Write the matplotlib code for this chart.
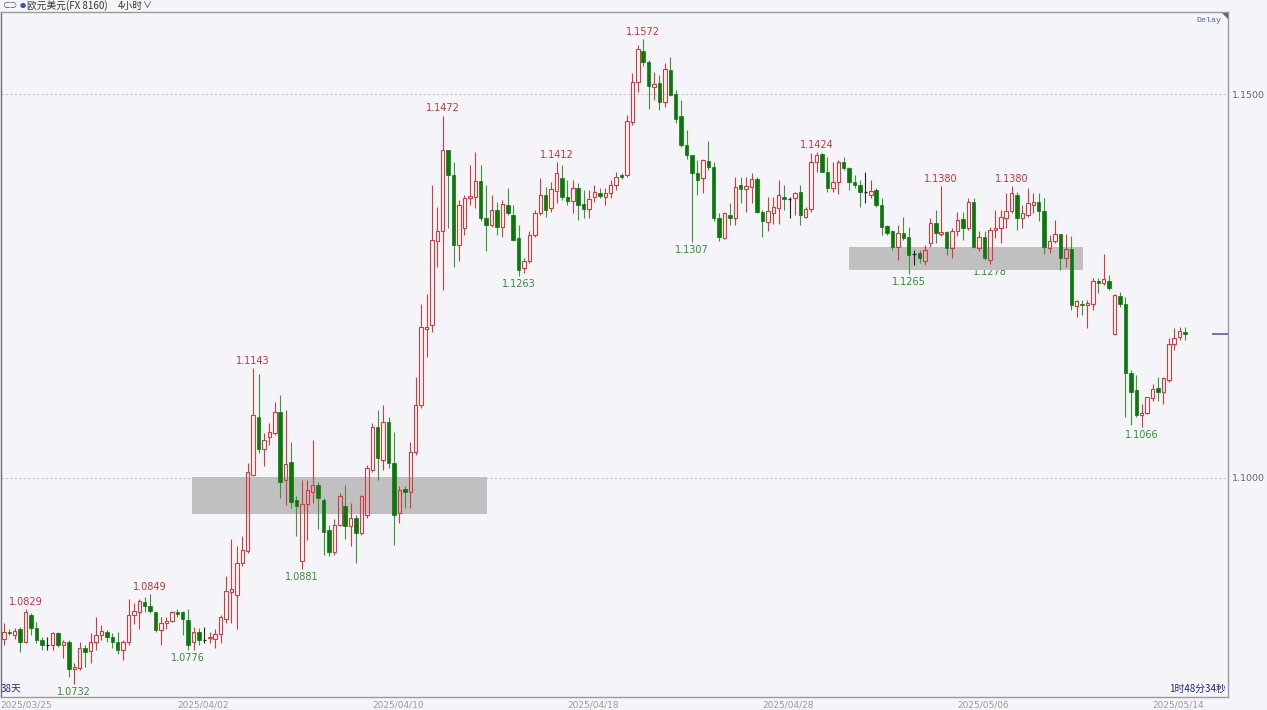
import numpy as np
import matplotlib
matplotlib.use("Agg")
import matplotlib.pyplot as plt
from matplotlib.patches import Rectangle, Polygon

# EUR/USD 4h candles
opens = [1.0791, 1.0800, 1.0796, 1.0803, 1.0787, 1.0821, 1.0805, 1.0789, 1.0783, 1.0782,
         1.0798, 1.0783, 1.0786, 1.0751, 1.0752, 1.0778, 1.0775, 1.0786, 1.0796, 1.0799,
         1.0793, 1.0787, 1.0776, 1.0786, 1.0821, 1.0826, 1.0839, 1.0833, 1.0825, 1.0802,
         1.0811, 1.0814, 1.0825, 1.0825, 1.0815, 1.0786, 1.0799, 1.0789, 1.0792, 1.0791,
         1.0797, 1.0817, 1.0852, 1.0848, 1.0889, 1.0905, 1.1004, 1.1080, 1.1038, 1.1053,
         1.1058, 1.1086, 1.0997, 1.1021, 1.0971, 1.0892, 1.0966, 1.0982, 1.0991, 1.0972,
         1.0932, 1.0904, 1.0939, 1.0963, 1.0937, 1.0948, 1.0928, 1.0952, 1.1010, 1.1067,
         1.1024, 1.1073, 1.1019, 1.0954, 1.0986, 1.0982, 1.1034, 1.1095, 1.1194, 1.1199,
         1.1308, 1.1321, 1.1427, 1.1395, 1.1303, 1.1325, 1.1364, 1.1366, 1.1387, 1.1338,
         1.1329, 1.1349, 1.1327, 1.1355, 1.1342, 1.1312, 1.1274, 1.1282, 1.1317, 1.1345,
         1.1368, 1.1351, 1.1374, 1.1391, 1.1366, 1.1361, 1.1378, 1.1357, 1.1350, 1.1366,
         1.1371, 1.1366, 1.1371, 1.1382, 1.1394, 1.1395, 1.1463, 1.1516, 1.1556, 1.1542,
         1.1509, 1.1514, 1.1489, 1.1531, 1.1500, 1.1471, 1.1434, 1.1421, 1.1397, 1.1390,
         1.1413, 1.1405, 1.1339, 1.1312, 1.1342, 1.1338, 1.1381, 1.1376, 1.1379, 1.1389,
         1.1346, 1.1333, 1.1345, 1.1351, 1.1366, 1.1363, 1.1364, 1.1372, 1.1340, 1.1350,
         1.1411, 1.1422, 1.1399, 1.1377, 1.1385, 1.1411, 1.1404, 1.1385, 1.1382, 1.1372,
         1.1369, 1.1375, 1.1355, 1.1328, 1.1321, 1.1301, 1.1319, 1.1314, 1.1292, 1.1293,
         1.1282, 1.1306, 1.1332, 1.1318, 1.1320, 1.1300, 1.1322, 1.1337, 1.1325, 1.1360,
         1.1300, 1.1314, 1.1284, 1.1323, 1.1326, 1.1339, 1.1348, 1.1369, 1.1339, 1.1342,
         1.1356, 1.1360, 1.1348, 1.1300, 1.1308, 1.1318, 1.1286, 1.1298, 1.1224, 1.1227,
         1.1225, 1.1227, 1.1257, 1.1254, 1.1257, 1.1188, 1.1237, 1.1227, 1.1137, 1.1114,
         1.1082, 1.1084, 1.1104, 1.1117, 1.1112, 1.1128, 1.1175, 1.1184, 1.1190]
highs = [1.0811, 1.0803, 1.0805, 1.0806, 1.0829, 1.0824, 1.0813, 1.0793, 1.0793, 1.0800,
         1.0800, 1.0789, 1.0789, 1.0759, 1.0787, 1.0783, 1.0798, 1.0819, 1.0808, 1.0802,
         1.0798, 1.0800, 1.0789, 1.0843, 1.0837, 1.0842, 1.0845, 1.0849, 1.0826, 1.0819,
         1.0819, 1.0827, 1.0830, 1.0827, 1.0829, 1.0806, 1.0805, 1.0806, 1.0800, 1.0804,
         1.0822, 1.0872, 1.0921, 1.0911, 1.0924, 1.1019, 1.1143, 1.1135, 1.1058, 1.1071,
         1.1099, 1.1108, 1.1089, 1.1047, 1.0976, 1.0997, 1.0997, 1.1049, 1.0995, 1.0974,
         1.0939, 1.0946, 1.0980, 1.0991, 1.0967, 1.0952, 1.0978, 1.1017, 1.1071, 1.1088,
         1.1095, 1.1080, 1.1060, 1.0989, 1.0989, 1.1047, 1.1132, 1.1227, 1.1240, 1.1381,
         1.1353, 1.1472, 1.1427, 1.1412, 1.1362, 1.1368, 1.1408, 1.1425, 1.1408, 1.1381,
         1.1368, 1.1360, 1.1362, 1.1377, 1.1355, 1.1329, 1.1286, 1.1321, 1.1349, 1.1390,
         1.1379, 1.1386, 1.1412, 1.1407, 1.1388, 1.1388, 1.1384, 1.1375, 1.1375, 1.1381,
         1.1377, 1.1377, 1.1388, 1.1399, 1.1397, 1.1473, 1.1527, 1.1564, 1.1572, 1.1544,
         1.1528, 1.1525, 1.1541, 1.1548, 1.1505, 1.1492, 1.1453, 1.1421, 1.1414, 1.1416,
         1.1439, 1.1412, 1.1345, 1.1347, 1.1358, 1.1392, 1.1392, 1.1392, 1.1397, 1.1392,
         1.1349, 1.1366, 1.1366, 1.1388, 1.1381, 1.1366, 1.1372, 1.1381, 1.1353, 1.1423,
         1.1424, 1.1423, 1.1418, 1.1412, 1.1414, 1.1418, 1.1405, 1.1395, 1.1388, 1.1399,
         1.1388, 1.1377, 1.1364, 1.1329, 1.1323, 1.1329, 1.1340, 1.1327, 1.1297, 1.1297,
         1.1303, 1.1338, 1.1349, 1.1380, 1.1321, 1.1325, 1.1347, 1.1347, 1.1364, 1.1364,
         1.1321, 1.1321, 1.1327, 1.1349, 1.1349, 1.1371, 1.1380, 1.1373, 1.1356, 1.1377,
         1.1371, 1.1371, 1.1364, 1.1316, 1.1336, 1.1318, 1.1318, 1.1315, 1.1232, 1.1232,
         1.1232, 1.1260, 1.1260, 1.1292, 1.1264, 1.1240, 1.1242, 1.1236, 1.1140, 1.1134,
         1.1097, 1.1106, 1.1123, 1.1132, 1.1132, 1.1182, 1.1195, 1.1197, 1.1197]
lows = [1.0783, 1.0795, 1.0791, 1.0773, 1.0785, 1.0796, 1.0785, 1.0776, 1.0776, 1.0776,
        1.0780, 1.0765, 1.0741, 1.0732, 1.0750, 1.0754, 1.0759, 1.0776, 1.0789, 1.0787,
        1.0778, 1.0771, 1.0763, 1.0783, 1.0810, 1.0804, 1.0826, 1.0824, 1.0799, 1.0783,
        1.0804, 1.0813, 1.0819, 1.0796, 1.0776, 1.0776, 1.0783, 1.0785, 1.0785, 1.0779,
        1.0785, 1.0811, 1.0811, 1.0803, 1.0885, 1.0902, 1.1002, 1.1032, 1.1015, 1.1043,
        1.1056, 1.0974, 1.0965, 1.0961, 1.0924, 1.0881, 1.0919, 1.0967, 1.0934, 1.0900,
        1.0898, 1.0900, 1.0937, 1.0921, 1.0911, 1.0889, 1.0926, 1.0948, 1.1008, 1.0997,
        1.1010, 1.1013, 1.0913, 1.0941, 1.0961, 1.0961, 1.1030, 1.1091, 1.1158, 1.1190,
        1.1275, 1.1245, 1.1325, 1.1275, 1.1282, 1.1316, 1.1355, 1.1351, 1.1334, 1.1295,
        1.1327, 1.1316, 1.1314, 1.1342, 1.1308, 1.1263, 1.1267, 1.1280, 1.1314, 1.1343,
        1.1340, 1.1347, 1.1358, 1.1362, 1.1355, 1.1345, 1.1336, 1.1338, 1.1338, 1.1360,
        1.1364, 1.1356, 1.1364, 1.1375, 1.1389, 1.1392, 1.1460, 1.1503, 1.1536, 1.1481,
        1.1492, 1.1479, 1.1483, 1.1497, 1.1462, 1.1431, 1.1416, 1.1307, 1.1369, 1.1371,
        1.1401, 1.1334, 1.1308, 1.1311, 1.1329, 1.1329, 1.1358, 1.1347, 1.1358, 1.1345,
        1.1314, 1.1321, 1.1331, 1.1331, 1.1349, 1.1338, 1.1342, 1.1329, 1.1338, 1.1346,
        1.1399, 1.1398, 1.1373, 1.1373, 1.1370, 1.1401, 1.1375, 1.1377, 1.1353, 1.1358,
        1.1364, 1.1353, 1.1316, 1.1316, 1.1297, 1.1284, 1.1310, 1.1265, 1.1277, 1.1280,
        1.1277, 1.1301, 1.1306, 1.1315, 1.1290, 1.1286, 1.1315, 1.1310, 1.1323, 1.1300,
        1.1295, 1.1284, 1.1278, 1.1312, 1.1306, 1.1325, 1.1345, 1.1323, 1.1325, 1.1340,
        1.1345, 1.1334, 1.1292, 1.1293, 1.1306, 1.1271, 1.1275, 1.1219, 1.1210, 1.1212,
        1.1195, 1.1219, 1.1241, 1.1251, 1.1245, 1.1186, 1.1223, 1.1080, 1.1069, 1.1080,
        1.1066, 1.1083, 1.1100, 1.1100, 1.1097, 1.1125, 1.1167, 1.1180, 1.1180]
closes = [1.0799, 1.0798, 1.0801, 1.0787, 1.0825, 1.0805, 1.0789, 1.0782, 1.0783, 1.0798,
          1.0782, 1.0786, 1.0751, 1.0754, 1.0778, 1.0774, 1.0786, 1.0796, 1.0801, 1.0793,
          1.0786, 1.0776, 1.0787, 1.0821, 1.0827, 1.0840, 1.0833, 1.0827, 1.0802, 1.0811,
          1.0814, 1.0825, 1.0823, 1.0816, 1.0783, 1.0799, 1.0789, 1.0789, 1.0793, 1.0797,
          1.0819, 1.0853, 1.0856, 1.0889, 1.0906, 1.1008, 1.1082, 1.1038, 1.1050, 1.1060,
          1.1086, 1.0995, 1.1018, 1.0969, 1.0963, 1.0966, 1.0984, 1.0991, 1.0974, 1.0930,
          1.0904, 1.0939, 1.0976, 1.0937, 1.0948, 1.0928, 1.0976, 1.1013, 1.1067, 1.1026,
          1.1073, 1.1019, 1.0952, 1.0984, 1.0982, 1.1034, 1.1095, 1.1197, 1.1197, 1.1310,
          1.1322, 1.1427, 1.1395, 1.1303, 1.1355, 1.1364, 1.1367, 1.1387, 1.1338, 1.1329,
          1.1349, 1.1327, 1.1357, 1.1345, 1.1310, 1.1271, 1.1282, 1.1317, 1.1345, 1.1368,
          1.1349, 1.1376, 1.1397, 1.1366, 1.1361, 1.1378, 1.1355, 1.1350, 1.1363, 1.1372,
          1.1367, 1.1371, 1.1382, 1.1392, 1.1392, 1.1465, 1.1516, 1.1558, 1.1542, 1.1510,
          1.1513, 1.1489, 1.1532, 1.1499, 1.1468, 1.1434, 1.1421, 1.1397, 1.1388, 1.1414,
          1.1405, 1.1338, 1.1314, 1.1345, 1.1339, 1.1379, 1.1376, 1.1380, 1.1389, 1.1346,
          1.1335, 1.1348, 1.1353, 1.1368, 1.1363, 1.1363, 1.1371, 1.1342, 1.1350, 1.1412,
          1.1421, 1.1399, 1.1377, 1.1386, 1.1412, 1.1403, 1.1385, 1.1382, 1.1373, 1.1372,
          1.1374, 1.1355, 1.1327, 1.1319, 1.1301, 1.1319, 1.1313, 1.1290, 1.1292, 1.1286,
          1.1297, 1.1332, 1.1319, 1.1320, 1.1300, 1.1322, 1.1336, 1.1325, 1.1360, 1.1301,
          1.1314, 1.1286, 1.1323, 1.1326, 1.1340, 1.1348, 1.1371, 1.1339, 1.1345, 1.1358,
          1.1360, 1.1348, 1.1301, 1.1309, 1.1318, 1.1286, 1.1298, 1.1225, 1.1230, 1.1225,
          1.1228, 1.1257, 1.1254, 1.1259, 1.1247, 1.1238, 1.1226, 1.1137, 1.1112, 1.1082,
          1.1084, 1.1105, 1.1116, 1.1112, 1.1130, 1.1175, 1.1182, 1.1191, 1.1187]

date_labels = ['2025/03/25', '2025/04/02', '2025/04/10', '2025/04/18',
               '2025/04/28', '2025/05/06', '2025/05/14']
date_idx = [0.7, 36.7, 72.7, 108.7, 144.7, 180.7, 216.7]

peak_idx = [4, 27, 46, 81, 102, 118, 150, 173, 186]
trough_idx = [13, 34, 55, 95, 127, 167, 182, 210]

# grey zones: (start idx, end idx, low, high)
zones = [(34.8, 89.2, 1.0953, 1.1001), (155.9, 199.2, 1.1271, 1.1301)]
price_ticks = [1.1000, 1.1500]

BG = '#f5f5f9'
UP = '#d23c40'
DN = '#0b780b'
DN_WICK = '#3b963b'

W, H = 1267, 710
fig = plt.figure(figsize=(W / 100, H / 100), dpi=100, facecolor=BG)
ax = fig.add_axes([0.6 / W, 13 / H, 1227.4 / W, 685 / H], facecolor=BG)

o = np.array(opens); h = np.array(highs); l = np.array(lows); c = np.array(closes)
n = len(o)
x = np.arange(n)
top = np.maximum(o, c)
bot = np.minimum(o, c)
up = c > o
dn = c < o
flat = c == o
bw = 0.64

ax.vlines(x[up], top[up], h[up], color=UP, lw=0.8, zorder=4)
ax.vlines(x[up], l[up], bot[up], color=UP, lw=0.8, zorder=4)
ax.bar(x[up], top[up] - bot[up], bw, bottom=bot[up], facecolor='none',
       edgecolor=UP, lw=0.8, zorder=5)
ax.vlines(x[dn], l[dn], h[dn], color=DN_WICK, lw=0.8, zorder=4)
ax.bar(x[dn], top[dn] - bot[dn], bw, bottom=bot[dn], color=DN,
       edgecolor=DN, lw=0.5, zorder=5)
ax.vlines(x[flat], l[flat], h[flat], color='#222222', lw=0.8, zorder=4)
ax.hlines(c[flat], x[flat] - bw / 2, x[flat] + bw / 2, color='#222222', lw=0.9, zorder=5)

for x0, x1, y0, y1 in zones:
    ax.add_patch(Rectangle((x0, y0), x1 - x0, y1 - y0, facecolor='#c0c0c0',
                           edgecolor='none', zorder=3))

for i in peak_idx:
    ax.annotate(f'{h[i]:.4f}', (x[i], h[i]), xytext=(0, 1.5), textcoords='offset points',
                ha='center', va='bottom', fontsize=7, color='#c8323c',
                family='DejaVu Sans', zorder=2)
for i in trough_idx:
    ax.annotate(f'{l[i]:.4f}', (x[i], l[i]), xytext=(0, -2), textcoords='offset points',
                ha='center', va='top', fontsize=7, color='#3a8a3a',
                family='DejaVu Sans', zorder=2)

for p in price_ticks:
    ax.axhline(p, color='#c4c4c4', lw=0.8, ls=(0, (2, 2)), zorder=1)

spacing = (1185 - 3.3) / (n - 1)
ax.set_xlim(-3.3 / spacing, (1228 - 3.3) / spacing)
ax.set_ylim(1.1 - (697 - 478) / 7680, 1.1 + (478 - 12) / 7680)

ax.yaxis.tick_right()
ax.set_yticks(price_ticks)
ax.set_yticklabels([f'{p:.4f}' for p in price_ticks])
ax.tick_params(axis='y', length=0, pad=3, labelsize=6.8, labelcolor='#666666')
for t in ax.get_yticklabels():
    t.set_family('DejaVu Sans')
ax.set_xticks([])
for s in ax.spines.values():
    s.set_color('#9a9a9a')
    s.set_linewidth(1.0)
ax.spines['left'].set_color('#707070')

# date labels along the bottom
xl = ax.get_xlim()
for k, (d, lab) in enumerate(zip(date_idx, date_labels)):
    if k == 0:
        ax.text(xl[0], -0.011, lab, transform=ax.get_xaxis_transform(), ha='left',
                va='center', fontsize=6.5, color='#9a9a9a', family='DejaVu Sans')
    else:
        ax.text(d, -0.011, lab, transform=ax.get_xaxis_transform(), ha='center',
                va='center', fontsize=6.5, color='#9a9a9a', family='DejaVu Sans')

# last price marker on the right edge
ax.axhline(c[-1], xmin=0.988, xmax=1.0, color='#5a5aa0', lw=1.2, zorder=6)

# header strip
fam = ['Noto Sans CJK SC', 'DejaVu Sans']
fig.text(2 / W, 1 - 6 / H, '⊂⊃', fontsize=5.5, color='#555555', va='center', family=fam)
fig.text(20 / W, 1 - 6 / H, '●', fontsize=4.5, color='#3355aa', va='center', family=fam)
fig.text(27 / W, 1 - 6 / H, '欧元美元(FX 8160)', fontsize=7, color='#333333', va='center', family=fam)
fig.text(118 / W, 1 - 6 / H, '4小时', fontsize=7, color='#333333', va='center', family=fam)
fig.text(143 / W, 1 - 6 / H, '∨', fontsize=6.5, color='#333333', va='center', family=fam)

fig.text(1221 / W, 1 - 20 / H, 'Delay', fontsize=6, color='#4a6aa8', ha='right',
         va='center', family='Liberation Mono')
fig.add_artist(Polygon([[1222 / W, 1 - 13 / H], [1228 / W, 1 - 13 / H], [1228 / W, 1 - 19 / H]],
                       closed=True, facecolor='#666666', edgecolor='none',
                       transform=fig.transFigure))

fig.text(0.5 / W, 1 - 689 / H, '38天', fontsize=7, color='#1a2a80', va='center', family=fam)
fig.text(1226 / W, 1 - 689 / H, '1时48分34秒', fontsize=7, color='#1a2a80', ha='right',
         va='center', family=fam)

fig.savefig('out.png', dpi=100, facecolor=BG)
